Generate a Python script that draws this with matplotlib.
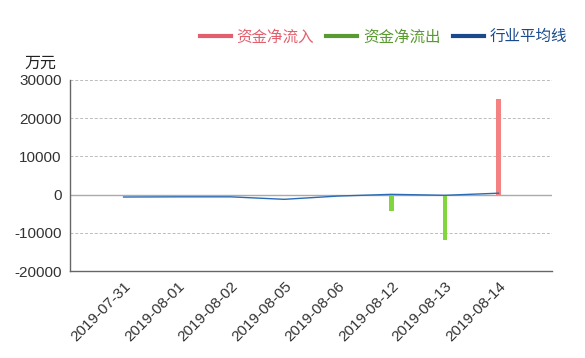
import numpy as np
import matplotlib.pyplot as plt
from matplotlib.lines import Line2D
import matplotlib.transforms as mtransforms

plt.rcParams['font.family'] = ['Liberation Sans', 'Noto Sans CJK SC', 'DejaVu Sans']

dates = ["2019-07-31", "2019-08-01", "2019-08-02", "2019-08-05",
         "2019-08-06", "2019-08-12", "2019-08-13", "2019-08-14"]
inflow = [0, 0, 0, 0, 0, 0, 0, 25000]
outflow = [0, 0, 0, 0, 0, -4300, -12000, 0]
industry_avg = [-650, -600, -600, -1250, -400, 50, -200, 350]

yticks = [-20000, -10000, 0, 10000, 20000, 30000]

c_in_bar = "#f58282"
c_out_bar = "#80d63c"
c_line = "#2a6bb5"
c_in_leg = "#e2606e"
c_out_leg = "#5a9a32"
c_line_leg = "#1a4a8c"

fig = plt.figure(figsize=(5.85, 3.58), dpi=100)
ax = fig.add_axes([0.1197, 0.243, 0.824, 0.534])

x = np.arange(len(dates))
ax.bar(x, inflow, width=0.08, color=c_in_bar, zorder=3)
ax.bar(x, outflow, width=0.08, color=c_out_bar, zorder=3)
ax.plot(x, industry_avg, color=c_line, lw=1.0, zorder=4)

ax.set_xlim(-1, 8)
ax.set_ylim(-20000, 30000)
ax.set_yticks(yticks)
ax.set_yticklabels([str(v) for v in yticks])

for v in yticks:
    if v == 0:
        ax.axhline(v, color="#aaaaaa", lw=1.0, zorder=1)
    elif v != -20000:
        ax.axhline(v, color="#bbbbbb", lw=0.7, ls=(0, (3, 2)), zorder=1)

ax.set_xticks(x)
ax.set_xticklabels(dates, rotation=45, ha="right", rotation_mode="anchor")
offset = mtransforms.ScaledTranslation(12 / 100, 1 / 100, fig.dpi_scale_trans)
for lbl in ax.get_xticklabels():
    lbl.set_transform(lbl.get_transform() + offset)

ax.tick_params(axis="both", length=0, labelsize=11, labelcolor="#333333")
ax.tick_params(axis="y", pad=6)
ax.tick_params(axis="x", pad=6)

for s in ["top", "right"]:
    ax.spines[s].set_visible(False)
for s in ["left", "bottom"]:
    ax.spines[s].set_color("#666666")
    ax.spines[s].set_linewidth(1.0)

fig.text(0.042, 0.823, "万元", fontsize=11.5, color="#222222", ha="left", va="center")

handles = [Line2D([], [], color=c_in_leg, lw=3),
           Line2D([], [], color=c_out_leg, lw=3),
           Line2D([], [], color=c_line_leg, lw=3)]
labels = ["资金净流入", "资金净流出", "行业平均线"]
leg = fig.legend(handles, labels, loc="center right", bbox_to_anchor=(0.969, 0.897),
                 ncol=3, frameon=False, fontsize=11.2, handlelength=2.0,
                 handletextpad=0.35, columnspacing=0.8, borderpad=0,
                 borderaxespad=0)
for t, c in zip(leg.get_texts(), [c_in_leg, c_out_leg, c_line_leg]):
    t.set_color(c)

fig.savefig("out.png", dpi=100)
